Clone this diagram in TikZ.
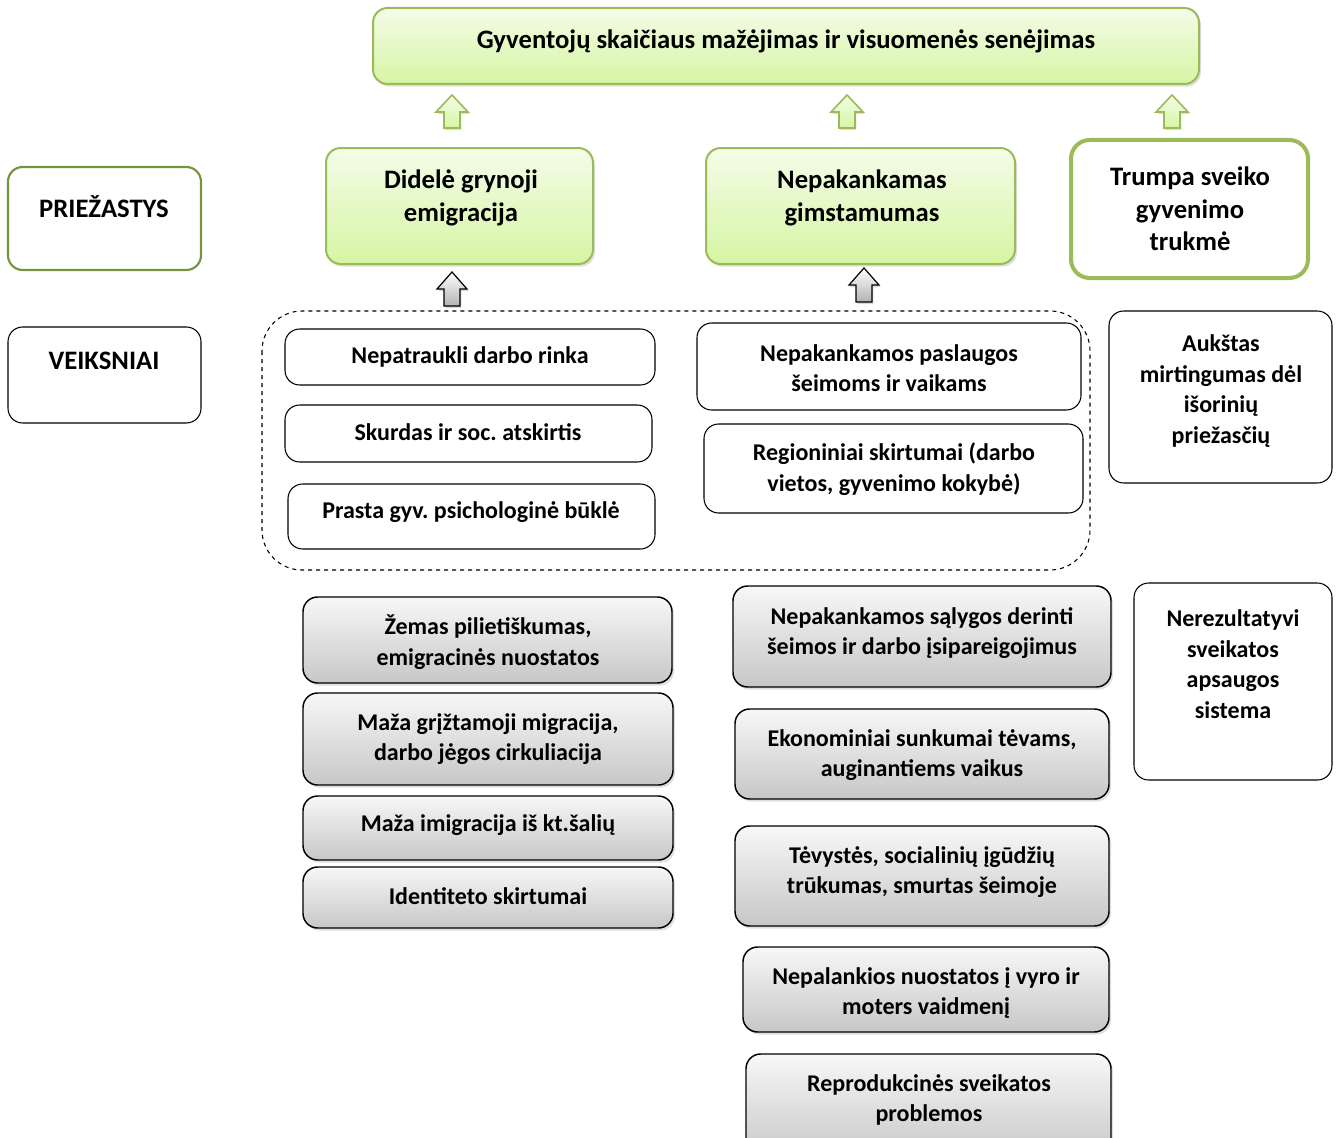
\documentclass[tikz,border=0pt]{standalone}
\usepackage{fontspec}
\setmainfont{Carlito}
\frenchspacing
\usetikzlibrary{shadows}

\definecolor{leafgreen}{HTML}{9BBB59}
\definecolor{darkleaf}{HTML}{77933C}
\definecolor{paleleaf}{HTML}{F4FCE8}
\definecolor{limeleaf}{HTML}{D6F5A3}

\tikzset{
	txt/.style={align=center, inner sep=0pt, font=\bfseries\fontsize{18}{23}\selectfont},
	bigtxt/.style={align=center, inner sep=0pt, font=\bfseries\fontsize{20}{24.5}\selectfont},
	greenbox/.style={draw=leafgreen, line width=1.5pt, rounded corners=11pt, top color=paleleaf, bottom color=limeleaf, drop shadow={opacity=0.25, shadow xshift=1.5pt, shadow yshift=-2pt}},
	graybox/.style={draw=black, line width=1.1pt, rounded corners=11pt, top color=black!3, bottom color=black!22, drop shadow={opacity=0.25, shadow xshift=1.5pt, shadow yshift=-2pt}},
	whitebox/.style={draw=black, line width=0.8pt, rounded corners=11pt, fill=white},
	greenarrow/.style={draw=leafgreen, line width=1.2pt, top color=paleleaf, bottom color=limeleaf, drop shadow={opacity=0.25, shadow xshift=1pt, shadow yshift=-1.5pt}},
	grayarrow/.style={draw=black, line width=0.9pt, top color=white, bottom color=black!30, drop shadow={opacity=0.3, shadow xshift=1pt, shadow yshift=-1.5pt}}
}

\begin{document}
\begin{tikzpicture}[x=0.75pt, y=-0.75pt]
	\useasboundingbox (0,0) rectangle (1336,1138);

	% Pagrindinė problema
	\draw[greenbox] (373,8) rectangle (1199,84);
	\node[bigtxt] (titulas) at (786,41) {Gyventojų skaičiaus mažėjimas ir visuomenės senėjimas};

	% Žalios rodyklės
	\foreach \x in {452,847,1172}{
		\draw[greenarrow] (\x-8,128) -- (\x-8,112) -- (\x-16,112) -- (\x,95) -- (\x+16,112) -- (\x+8,112) -- (\x+8,128) -- cycle;
	}

	% Priežastys
	\draw[draw=darkleaf, line width=1.6pt, rounded corners=11pt] (8,167) rectangle (201,270);
	\node[bigtxt] (priezastys) at (104,207) {PRIEŽASTYS};

	\draw[greenbox] (326,148) rectangle (593,264);
	\node[bigtxt] (emigracija) at (461,198) {Didelė grynoji\\emigracija};

	\draw[greenbox] (706,148) rectangle (1015,264);
	\node[bigtxt] (gimstamumas) at (862,198) {Nepakankamas\\gimstamumas};

	\draw[draw=leafgreen, line width=3pt, rounded corners=14pt, fill=white] (1071,140) rectangle (1308,278);
	\node[bigtxt] (trukme) at (1190,209) {Trumpa sveiko\\gyvenimo\\trukmė};

	% Pilkos rodyklės
	\draw[grayarrow] (444,306) -- (444,289) -- (437,289) -- (452,272) -- (467,289) -- (460,289) -- (460,306) -- cycle;
	\draw[grayarrow] (856,302) -- (856,285) -- (849,285) -- (864,268) -- (879,285) -- (872,285) -- (872,302) -- cycle;

	% Veiksniai
	\draw[draw=black, line width=0.8pt, rounded corners=11pt] (8,327) rectangle (201,423);
	\node[bigtxt] (veiksniai) at (104,361) {VEIKSNIAI};

	\draw[dashed, line width=0.8pt, rounded corners=30pt] (262,311) rectangle (1090,570);

	\draw[whitebox] (285,329) rectangle (655,385);
	\node[txt] (rinka) at (470,357) {Nepatraukli darbo rinka};
	\draw[whitebox] (285,405) rectangle (652,462);
	\node[txt] (skurdas) at (468,432) {Skurdas ir soc. atskirtis};
	\draw[whitebox] (288,484) rectangle (655,549);
	\node[txt] (bukle) at (471,512) {Prasta gyv. psichologinė būklė};

	\draw[whitebox] (697,323) rectangle (1081,410);
	\node[txt] (paslaugos) at (889,368) {Nepakankamos paslaugos\\šeimoms ir vaikams};
	\draw[whitebox] (704,424) rectangle (1083,513);
	\node[txt] (skirtumai) at (894,469) {Regioniniai skirtumai (darbo\\vietos, gyvenimo kokybė)};

	\draw[whitebox] (1109,311) rectangle (1332,483);
	\node[txt] (mirtingumas) at (1221,391) {Aukštas\\mirtingumas dėl\\išorinių\\priežasčių};

	\draw[whitebox] (1134,583) rectangle (1332,780);
	\node[txt] (sistema) at (1233,664) {Nerezultatyvi\\sveikatos\\apsaugos\\sistema};

	% Emigracijos veiksniai
	\draw[graybox] (303,597) rectangle (672,683);
	\node[txt] (pilietiskumas) at (488,642) {Žemas pilietiškumas,\\emigracinės nuostatos};
	\draw[graybox] (303,693) rectangle (673,785);
	\node[txt] (grizimas) at (488,739) {Maža grįžtamoji migracija,\\darbo jėgos cirkuliacija};
	\draw[graybox] (303,796) rectangle (673,860);
	\node[txt] (imigracija) at (488,825) {Maža imigracija iš kt.šalių};
	\draw[graybox] (303,867) rectangle (673,928);
	\node[txt] (identitetas) at (488,896) {Identiteto skirtumai};

	% Gimstamumo veiksniai
	\draw[graybox] (733,586) rectangle (1111,687);
	\node[txt] (derinimas) at (922,633) {Nepakankamos sąlygos derinti\\šeimos ir darbo įsipareigojimus};
	\draw[graybox] (735,709) rectangle (1109,799);
	\node[txt] (sunkumai) at (922,755) {Ekonominiai sunkumai tėvams,\\auginantiems vaikus};
	\draw[graybox] (735,826) rectangle (1109,926);
	\node[txt] (tevyste) at (922,872) {Tėvystės, socialinių įgūdžių\\trūkumas, smurtas šeimoje};
	\draw[graybox] (743,947) rectangle (1109,1032);
	\node[txt] (vaidmuo) at (926,993) {Nepalankios nuostatos į vyro ir\\moters vaidmenį};
	\draw[graybox] (746,1054) rectangle (1111,1160);
	\node[txt] (sveikata) at (929,1100) {Reprodukcinės sveikatos\\problemos};
\end{tikzpicture}
\end{document}
